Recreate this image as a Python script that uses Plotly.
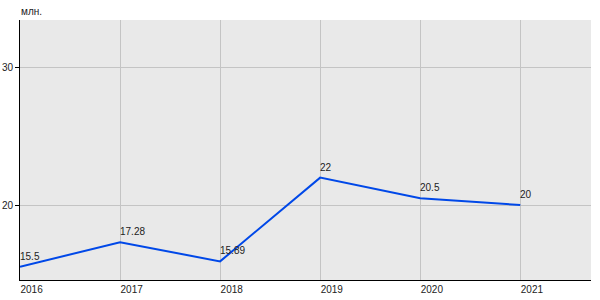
import plotly.graph_objects as go

years = [2016, 2017, 2018, 2019, 2020, 2021]
values = [15.5, 17.28, 15.89, 22, 20.5, 20]
labels = ["15.5", "17.28", "15.89", "22", "20.5", "20"]
y_ticks = [20, 30]
unit = "млн."

fig = go.Figure()
fig.add_trace(go.Scatter(x=years, y=values, mode="lines",
                         line=dict(color="#0048e8", width=2), hoverinfo="skip"))

for x, y, t in zip(years, values, labels):
    fig.add_annotation(x=x, y=y, text=t, showarrow=False, xanchor="left", yanchor="bottom",
                       yshift=3, xshift=-2, font=dict(size=10, color="#222222"))

fig.add_annotation(xref="paper", yref="paper", x=0, y=1, text=unit, showarrow=False,
                   xanchor="left", yanchor="bottom", yshift=1, xshift=-1,
                   font=dict(size=10, color="#222222"))

fig.update_layout(
    width=600, height=300,
    margin=dict(l=20, r=9, t=20, b=20),
    paper_bgcolor="white", plot_bgcolor="#e9e9e9",
    showlegend=False,
    font=dict(family="Arial, Liberation Sans, sans-serif", size=10, color="#222222"),
)
fig.update_xaxes(range=[2016, 2021.707], tickvals=years, ticktext=[str(y) for y in years],
                 showgrid=True, gridcolor="#c4c4c4", gridwidth=1,
                 showline=True, linecolor="black", linewidth=1, automargin=False,
                 ticks="", ticklabelposition="outside right", zeroline=False)
fig.update_yaxes(range=[14.53, 33.5], tickvals=y_ticks,
                 showgrid=True, gridcolor="#c4c4c4", gridwidth=1,
                 showline=True, linecolor="black", linewidth=1, automargin=False,
                 ticks="outside", ticklen=4, tickcolor="black", zeroline=False)

fig.write_html("out.html")
